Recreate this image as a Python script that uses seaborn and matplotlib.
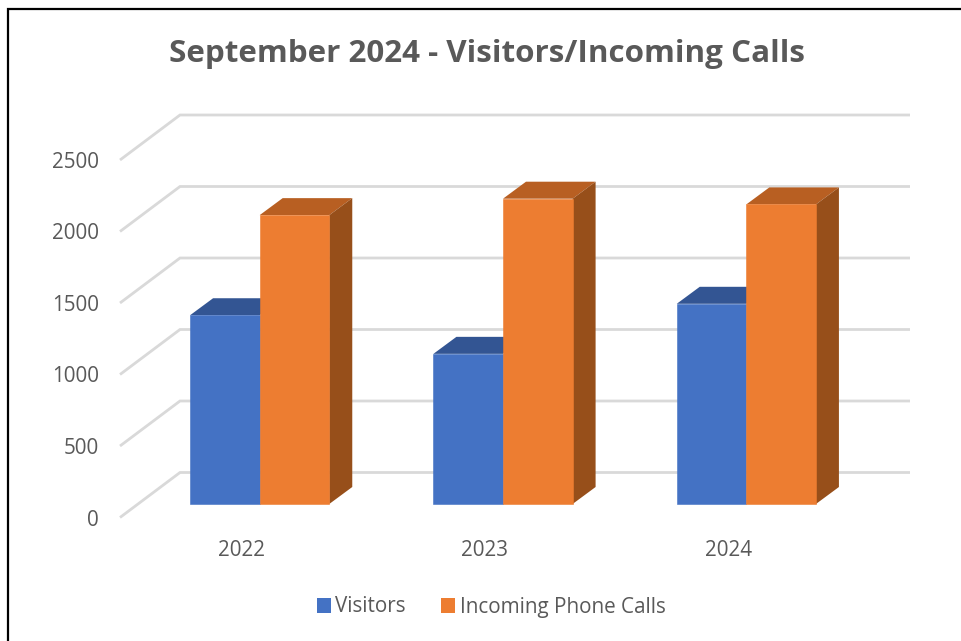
import pandas as pd
import seaborn as sb
import matplotlib.pyplot as plt
from matplotlib.lines import Line2D
from matplotlib.patches import Polygon, Patch

years = ['2022', '2023', '2024']
visitors = [1320, 1050, 1400]
calls = [2020, 2135, 2095]
yticks = [0, 500, 1000, 1500, 2000, 2500]

W, H = 961, 641
# wall depth and where the bars stand in it, in pixels
DEPTH_X, DEPTH_Y = 60, 45
BAR_X, BAR_Y = 18, 13.5
SIDE_X, SIDE_Y = 23, 17

BLUE, BLUE_TOP = '#4472C4', '#335593'
ORANGE, ORANGE_TOP, ORANGE_SIDE = '#ED7D31', '#B85F22', '#974F1A'
TEXT = '#595959'
GRID = '#D9D9D9'

plt.rcParams['font.family'] = ['Open Sans', 'DejaVu Sans']

df = pd.DataFrame({
    'year': years * 2,
    'value': visitors + calls,
    'series': ['Visitors'] * 3 + ['Incoming Phone Calls'] * 3,
})

fig = plt.figure(figsize=(W / 100, H / 100), dpi=100)
ax = fig.add_axes([120 / W, 1 - 517.5 / H, 730 / W, 357.5 / H])

sb.barplot(data=df, x='year', y='value', hue='series',
           palette=[BLUE, ORANGE], width=0.572, saturation=1,
           legend=False, ax=ax, zorder=3, linewidth=0)
ax.set_xlim(-0.5, 2.5)
ax.set_ylim(0, 2500)

# pixels to data units
px_x = 3 / 730
px_y = 2500 / 357.5

# walls
for y in yticks:
    ax.plot([-0.5, -0.5 + DEPTH_X * px_x, 2.5 + DEPTH_X * px_x],
            [y, y + DEPTH_Y * px_y, y + DEPTH_Y * px_y],
            color=GRID, lw=2, clip_on=False, zorder=1,
            solid_capstyle='butt', solid_joinstyle='miter')

# move bars into the box and add top and side faces
bars = [b for b in ax.patches if b.get_height() > 0]
bars = sorted(bars, key=lambda b: b.get_x())
for b in bars:
    b.set_x(b.get_x() + BAR_X * px_x)
    b.set_y(BAR_Y * px_y)
    b.set_clip_on(False)
    b.set_zorder(5)
    b.set_edgecolor(b.get_facecolor())
    b.set_linewidth(0.4)
    x0, x1 = b.get_x(), b.get_x() + b.get_width()
    y0, y1 = b.get_y(), b.get_y() + b.get_height()
    dx, dy = SIDE_X * px_x, SIDE_Y * px_y
    is_blue = b.get_facecolor()[2] > 0.5
    ax.add_patch(Polygon([(x0, y1), (x1, y1), (x1 + dx, y1 + dy), (x0 + dx, y1 + dy)],
                         fc=BLUE_TOP if is_blue else ORANGE_TOP, ec='none',
                         clip_on=False, zorder=4))
    if not is_blue:
        ax.add_patch(Polygon([(x1, y0), (x1 + dx, y0 + dy), (x1 + dx, y1 + dy), (x1, y1)],
                             fc=ORANGE_SIDE, ec='none', clip_on=False, zorder=4))

ax.set_yticks(yticks)
ax.set_xlabel('')
ax.set_ylabel('')
sb.despine(ax=ax, left=True, bottom=True)
ax.tick_params(axis='y', length=0, pad=15, labelsize=14.9, labelcolor=TEXT)
ax.tick_params(axis='x', length=0, pad=16, labelsize=14.9, labelcolor=TEXT)

fig.suptitle('September 2024 - Visitors/Incoming Calls', x=486.5 / W, y=1 - 54 / H,
             va='center', fontsize=22.6, fontweight='bold', color=TEXT)

handles = [Patch(fc=BLUE, label='Visitors'), Patch(fc=ORANGE, label='Incoming Phone Calls')]
fig.legend(handles=handles, loc='center', bbox_to_anchor=(491 / W, 1 - 607 / H),
           ncol=2, frameon=False, fontsize=14.9, labelcolor=TEXT,
           handlelength=0.7, handleheight=0.7, handletextpad=0.2, columnspacing=1.7)

# frame of the screenshot, left and top only
fig.add_artist(Line2D([7.5 / W, 7.5 / W, 1], [0, 1 - 9 / H, 1 - 9 / H], color='black', lw=1.6,
                      solid_joinstyle='miter'))

plt.savefig('out.png', dpi=100)
